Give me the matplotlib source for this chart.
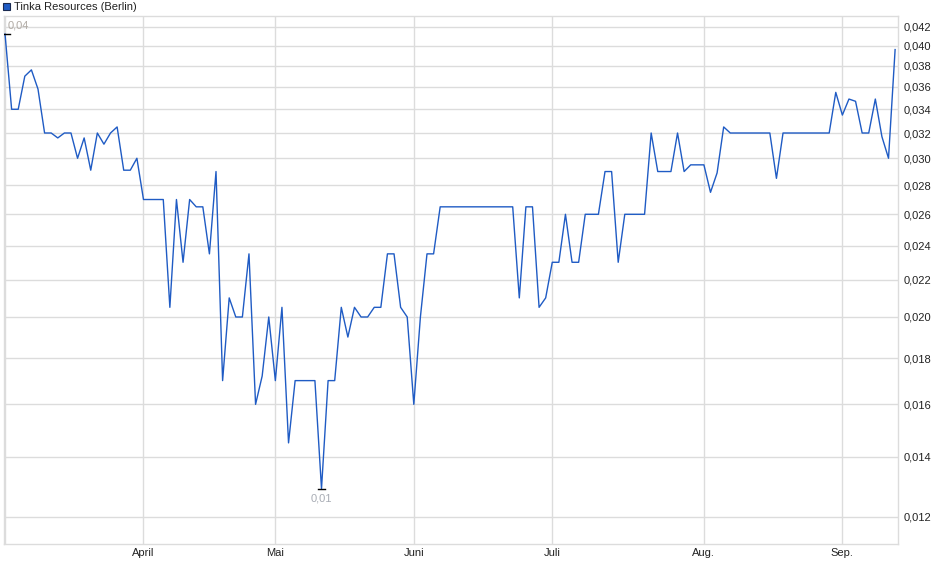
import numpy as np
import pandas as pd
import matplotlib
matplotlib.use('Agg')
import matplotlib.pyplot as plt
from matplotlib.ticker import FixedLocator, FixedFormatter, NullLocator
from matplotlib.patches import Rectangle

# trading days at Berlin, 03.03.2025 - 11.09.2025 (closed Good Friday, Easter Monday, 1 May)
holidays = ['2025-04-18', '2025-04-21', '2025-05-01']
dates = pd.bdate_range('2025-03-03', '2025-09-11')
dates = dates[~dates.isin(pd.to_datetime(holidays))]

# closing prices in EUR
prices = [
    0.0412, 0.034, 0.034, 0.037, 0.0376, 0.0358, 0.032, 0.032, 0.0316, 0.032,
    0.032, 0.030, 0.0316, 0.0291, 0.032, 0.0311, 0.032, 0.0325, 0.0291, 0.0291,
    0.030, 0.027, 0.027, 0.027, 0.027, 0.0205, 0.027, 0.023, 0.027, 0.0265,
    0.0265, 0.0235, 0.029, 0.017, 0.021, 0.020, 0.020, 0.0235, 0.016, 0.0172,
    0.020, 0.017, 0.0205, 0.0145, 0.017, 0.017, 0.017, 0.017, 0.0129, 0.017,
    0.017, 0.0205, 0.019, 0.0205, 0.020, 0.020, 0.0205, 0.0205, 0.0235, 0.0235,
    0.0205, 0.020, 0.016, 0.020, 0.0235, 0.0235, 0.0265, 0.0265, 0.0265, 0.0265,
    0.0265, 0.0265, 0.0265, 0.0265, 0.0265, 0.0265, 0.0265, 0.0265, 0.021, 0.0265,
    0.0265, 0.0205, 0.021, 0.023, 0.023, 0.026, 0.023, 0.023, 0.026, 0.026,
    0.026, 0.029, 0.029, 0.023, 0.026, 0.026, 0.026, 0.026, 0.032, 0.029,
    0.029, 0.029, 0.032, 0.029, 0.0295, 0.0295, 0.0295, 0.0275, 0.0289, 0.0325,
    0.032, 0.032, 0.032, 0.032, 0.032, 0.032, 0.032, 0.0285, 0.032, 0.032,
    0.032, 0.032, 0.032, 0.032, 0.032, 0.032, 0.0355, 0.0335, 0.0349, 0.0347,
    0.032, 0.032, 0.0349, 0.0317, 0.030, 0.0396,
]

month_names = ['', 'April', 'Mai', 'Juni', 'Juli', 'Aug.', 'Sep.']
y_ticks = [0.012, 0.014, 0.016, 0.018, 0.020, 0.022, 0.024, 0.026,
           0.028, 0.030, 0.032, 0.034, 0.036, 0.038, 0.040, 0.042]
y_labels = [f'{v:.3f}'.replace('.', ',') for v in y_ticks]
series_name = 'Tinka Resources (Berlin)'

plt.rcParams['font.family'] = ['Liberation Sans Narrow', 'Liberation Sans', 'DejaVu Sans']

x = np.arange(len(prices))
y = np.array(prices)
# first trading day of each month
month_idx = [0] + [i for i in range(1, len(dates)) if dates[i].month != dates[i - 1].month]

fig = plt.figure(figsize=(9.4, 5.79), dpi=100)
ax = fig.add_axes([0.0043, 0.0599, 0.9511, 0.9125])

grid_c = '#dcdcdc'
ax.plot(x, y, color='#1f5bc4', lw=1.0, zorder=3)

ax.set_yscale('log')
ax.set_ylim(0.01119, 0.04315)
ax.set_xlim(-0.15, 135.45)

ax.yaxis.set_major_locator(FixedLocator(y_ticks))
ax.yaxis.set_major_formatter(FixedFormatter(y_labels))
ax.yaxis.set_minor_locator(NullLocator())
ax.yaxis.tick_right()
ax.tick_params(axis='y', length=0, pad=4, labelsize=8, labelcolor='#222222')

ax.xaxis.set_major_locator(FixedLocator(month_idx))
ax.xaxis.set_major_formatter(FixedFormatter(month_names))
ax.tick_params(axis='x', length=0, pad=3, labelsize=8, labelcolor='#222222')

ax.grid(True, color=grid_c, lw=1.0, zorder=0)
for s in ax.spines.values():
    s.set_color(grid_c)
    s.set_linewidth(1.0)

# max / min markers
i_max = int(np.argmax(y))
i_min = int(np.argmin(y))
ax.plot([i_max - 0.5, i_max + 0.75], [y[i_max]] * 2, color='black', lw=1, zorder=4)
ax.plot([i_min - 0.6, i_min + 0.6], [y[i_min]] * 2, color='black', lw=1, zorder=4)
ax.annotate(f'{y[i_max]:.2f}'.replace('.', ','), (i_max, y[i_max]), xytext=(2, 6),
            textcoords='offset points', ha='left', va='center', fontsize=8, color='#b0aaa4')
ax.annotate(f'{y[i_min]:.2f}'.replace('.', ','), (i_min, y[i_min]), xytext=(0, -7),
            textcoords='offset points', ha='center', va='center', fontsize=8, color='#a8acb4')

# legend box top left
fig.patches.append(Rectangle((3 / 940, 1 - 10 / 579), 7 / 940, 7 / 579, transform=fig.transFigure,
                             facecolor='#1f5bc4', edgecolor='#1a2a50', lw=0.8))
fig.text(14 / 940, 1 - 6.5 / 579, series_name, fontsize=8, color='#222222', va='center', ha='left')

fig.savefig('out.png', dpi=100)
